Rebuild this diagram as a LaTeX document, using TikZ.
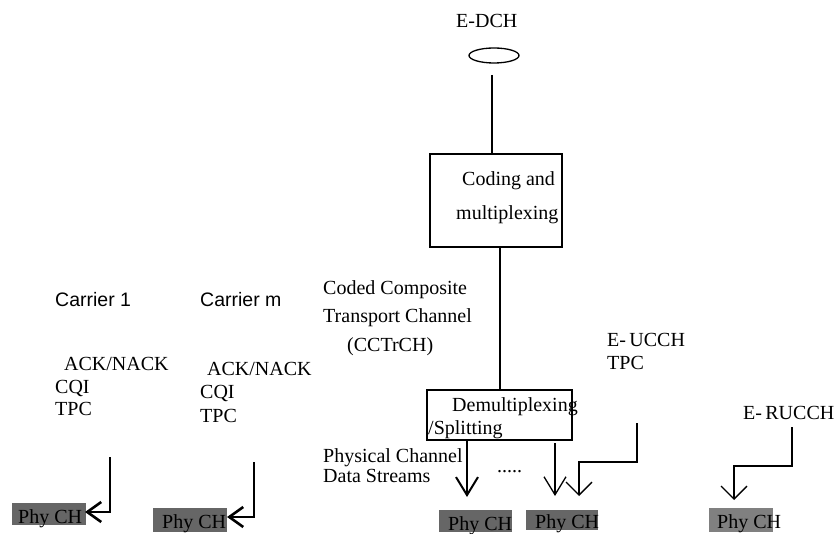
\documentclass[tikz,border=0pt]{standalone}
\usepackage{fontspec}
\setmainfont{Liberation Serif}
\newfontfamily\carrierfont{Liberation Sans}
\usetikzlibrary{arrows.meta,shapes.geometric}
\tikzset{
  lbl/.style={inner sep=0pt, anchor=base west, font=\fontsize{20}{24}\selectfont},
  slbl/.style={inner sep=0pt, anchor=base west, font=\carrierfont\fontsize{19.5}{23}\selectfont},
  blk/.style={draw, line width=1.3pt, inner sep=0pt},
  phybox/.style={fill=#1, inner sep=0pt},
  conn/.style={line width=1.3pt},
  thickconn/.style={line width=2.6pt},
  barbA/.style={-{Straight Barb[length=14pt,width=20pt]}},
  barbB/.style={-{Straight Barb[length=18pt,width=22pt]}},
  barbC/.style={-{Straight Barb[length=13pt,width=26pt]}},
}
\begin{document}
\begin{tikzpicture}[x=1pt,y=-1pt]
\useasboundingbox (0,0) rectangle (838,534);

% top part
\node[lbl] (edch) at (456,28) {E-DCH};
\node[blk, ellipse, minimum width=50pt, minimum height=15pt] (ell) at (494,55.5) {};
\node[blk, minimum width=132pt, minimum height=93pt] (cm) at (496,200.5) {};
\node[lbl] (cod) at (462,186) {Coding and};
\node[lbl] (mux) at (456,220) {multiplexing};
\coordinate (l1) at (492,75);
\draw[conn] (l1) -- (l1 |- cm.north);

% CCTrCH
\node[lbl] (cc1) at (323,295) {Coded Composite};
\node[lbl] (cc2) at (323,323) {Transport Channel};
\node[lbl] (cc3) at (347,352) {(CCTrCH)};

\node[blk, minimum width=145pt, minimum height=50pt] (dm) at (499.5,415) {};
\node[lbl] (dm1) at (452,412) {Demultiplexing};
\node[lbl] (dm2) at (428,435) {/Splitting};
\coordinate (l2) at (500,300);
\draw[conn] (cm.south -| l2) -- (dm.north -| l2);

\node[lbl] (pc1) at (323,462) {Physical Channel};
\node[lbl] (pc2) at (323,482) {Data Streams};
\node[lbl] (dots) at (497,472) {.....};

% Phy CH boxes
\node[phybox=black!60, minimum width=74pt, minimum height=22pt] (p1) at (49,514) {};
\node[lbl] at (18,523) {Phy CH};
\node[phybox=black!60, minimum width=74pt, minimum height=24pt] (p2) at (190,520) {};
\node[lbl] at (162,528) {Phy CH};
\node[phybox=black!60, minimum width=73pt, minimum height=22pt] (p3) at (475.5,521) {};
\node[lbl] at (448,530) {Phy CH};
\node[phybox=black!60, minimum width=72pt, minimum height=20pt] (p4) at (562,520) {};
\node[lbl] at (535,528) {Phy CH};
\node[phybox=black!50, minimum width=64pt, minimum height=24pt] (p5) at (741,520) {};
\node[lbl] at (717,528) {Phy CH};

% center arrows
\coordinate (a1) at (467,440);
\coordinate (a1e) at (467,497);
\draw[line width=2pt, barbB] (a1) -- (a1e);
\coordinate (a2) at (555,443);
\coordinate (a2e) at (555,496);
\draw[conn, barbB] (a2) -- (a2e);

% E-UCCH
\node[lbl] (eu) at (607,347) {E-\,UCCH};
\node[lbl] (eut) at (607,370) {TPC};
\coordinate (u1) at (637,423);
\coordinate (u2) at (637,462);
\coordinate (u3) at (579,462);
\coordinate (u4) at (579,496);
\draw[conn, barbC] (u1) -- (u2) -- (u3) -- (u4);

% E-RUCCH
\node[lbl] (er) at (743,419) {E-\,RUCCH};
\coordinate (r1) at (792,427);
\coordinate (r2) at (792,466);
\coordinate (r3) at (734,466);
\coordinate (r4) at (734,500);
\draw[conn, barbC] (r1) -- (r2) -- (r3) -- (r4);

% Carrier 1
\node[slbl] (c1) at (55,307) {Carrier 1};
\node[lbl] (c1a) at (64,371) {ACK/NACK};
\node[lbl] (c1b) at (55,394) {CQI};
\node[lbl] (c1c) at (55,415) {TPC};
\coordinate (k1) at (110,457);
\coordinate (k2) at (110,512);
\coordinate (k3) at (85,512);
\draw[thickconn, barbA] (k1) -- (k2) -- (k3);

% Carrier m
\node[slbl] (cm2) at (200,307) {Carrier m};
\node[lbl] (cma) at (207,376) {ACK/NACK};
\node[lbl] (cmb) at (200,399) {CQI};
\node[lbl] (cmc) at (200,422) {TPC};
\coordinate (m1) at (254,462);
\coordinate (m2) at (254,517);
\coordinate (m3) at (227,517);
\draw[thickconn, barbA] (m1) -- (m2) -- (m3);
\end{tikzpicture}
\end{document}
